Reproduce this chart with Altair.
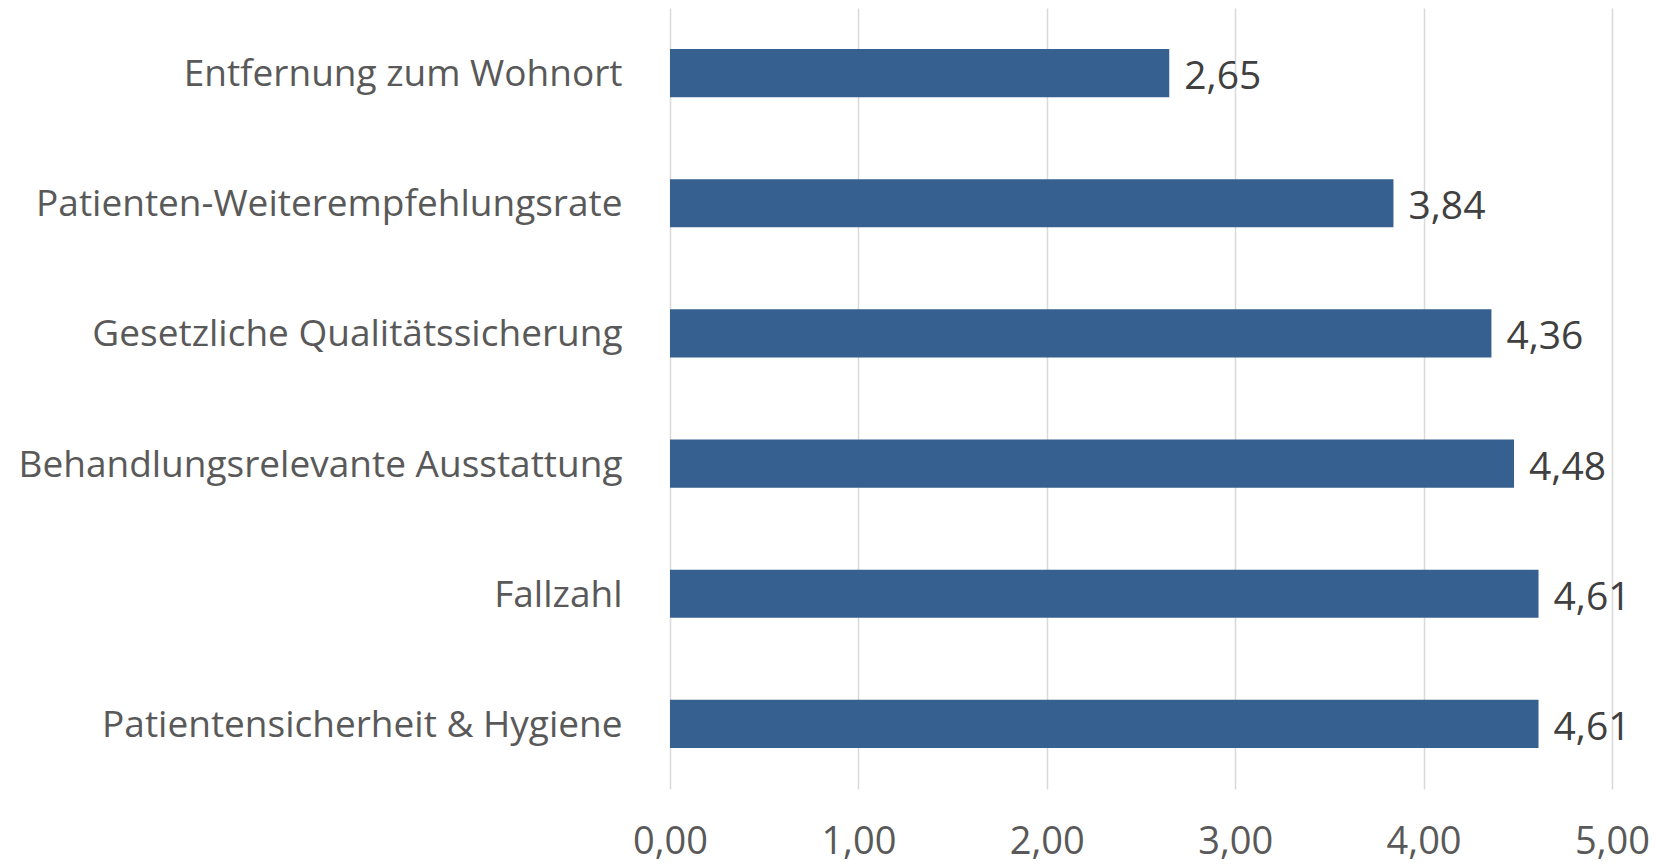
import altair as alt
import pandas as pd

categories = [
    "Entfernung zum Wohnort",
    "Patienten-Weiterempfehlungsrate",
    "Gesetzliche Qualitätssicherung",
    "Behandlungsrelevante Ausstattung",
    "Fallzahl",
    "Patientensicherheit & Hygiene",
]
values = [2.65, 3.84, 4.36, 4.48, 4.61, 4.61]
x_ticks = [0, 1, 2, 3, 4, 5]

df = pd.DataFrame({"cat": categories, "value": values})

FONT = "Open Sans"
FS_CAT = 37
FS_NUM = 39
FS_TICK = 38

y_enc = alt.Y(
    "cat:N",
    sort=categories,
    title=None,
    scale=alt.Scale(paddingInner=0.63, paddingOuter=0.315),
    axis=alt.Axis(
        domain=False, ticks=False, grid=False,
        labelFont=FONT, labelFontSize=FS_CAT, labelColor="#595959",
        labelPadding=48, labelLimit=700, labelBaseline="middle",
        labelOffset=2,
    ),
)
x_enc = alt.X(
    "value:Q",
    title=None,
    scale=alt.Scale(domain=[0, 5], nice=False),
    axis=alt.Axis(
        values=x_ticks, domain=False, ticks=False, grid=True,
        gridColor="#d9d9d9", gridWidth=1.5,
        labelFont=FONT, labelFontSize=FS_TICK, labelColor="#595959",
        labelPadding=34, labelFlush=False, labelOverlap=False,
        labelExpr="replace(format(datum.value, '.2f'), '.', ',')",
    ),
)

bars = alt.Chart(df).mark_bar(color="#36608f").encode(x=x_enc, y=y_enc)

labels = alt.Chart(df).transform_calculate(
    lbl="replace(format(datum.value, '.2f'), '.', ',')"
).mark_text(
    align="left", baseline="middle", dx=15, dy=4,
    font=FONT, fontSize=FS_NUM, color="#404040",
).encode(x="value:Q", y=alt.Y("cat:N", sort=categories), text="lbl:N")

chart = (bars + labels).properties(
    width=942, height=781,
    autosize=alt.AutoSizeParams(type="none"),
    padding={"left": 662, "top": 0, "right": 40, "bottom": 74},
).configure_view(stroke=None)

chart.save("out.html", embed_options={"renderer": "svg", "actions": False})
